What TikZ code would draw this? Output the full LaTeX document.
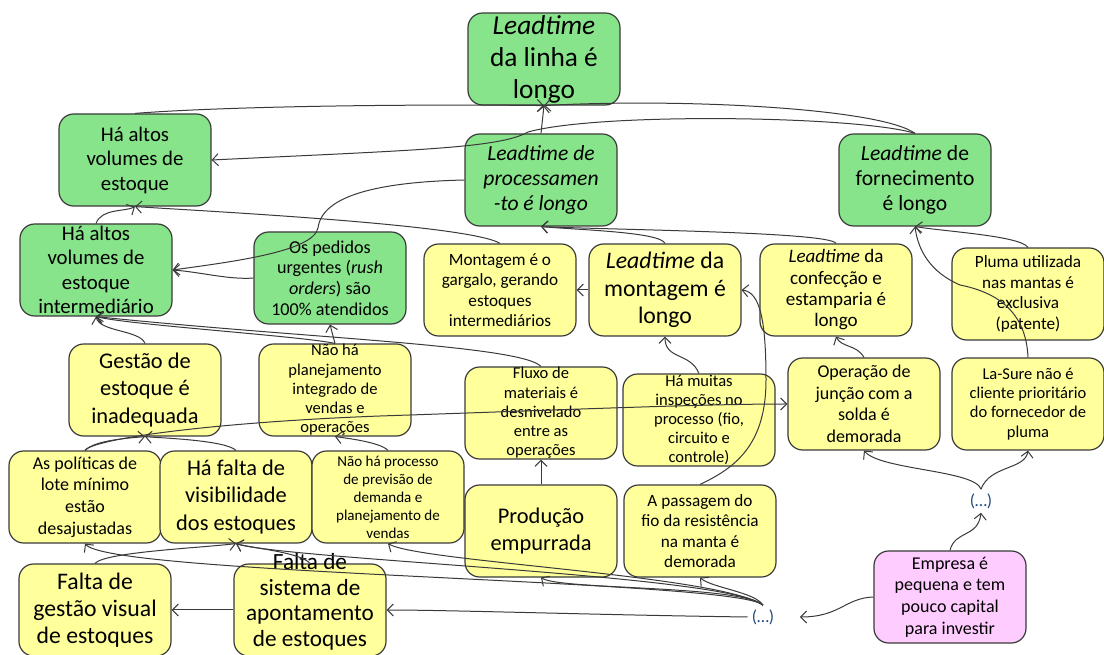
\documentclass[tikz,border=0pt]{standalone}
\usepackage{fontspec}
\setmainfont{Carlito}
\usetikzlibrary{arrows.meta}
\definecolor{gbox}{HTML}{88E48A}
\definecolor{ybox}{HTML}{FFFF9B}
\definecolor{pbox}{HTML}{FFCCFF}
\definecolor{edgec}{HTML}{3A3A3A}
\definecolor{dotc}{HTML}{1F497D}
\tikzset{
 box/.style={draw=edgec, line width=0.9pt, rounded corners=11pt, minimum width=114pt, minimum height=69pt, inner sep=0pt},
 gbx/.style={box, fill=gbox},
 ybx/.style={box, fill=ybox},
 pbx/.style={box, fill=pbox},
 txt/.style={align=center, inner sep=0pt, text=black},
 fH/.style={font=\fontsize{20.5}{24}\selectfont},
 fL/.style={font=\fontsize{16.8}{20.6}\selectfont},
 fLL/.style={font=\fontsize{17.8}{20.4}\selectfont},
 fLS/.style={font=\fontsize{17.4}{19.2}\selectfont},
 fM/.style={font=\fontsize{15.6}{18.4}\selectfont},
 fMM/.style={font=\fontsize{16.2}{18.6}\selectfont},
 fC/.style={font=\fontsize{14.3}{16}\selectfont},
 fU/.style={font=\fontsize{13.6}{15.6}\selectfont},
 fR/.style={font=\fontsize{13.5}{16.2}\selectfont},
 fS/.style={font=\fontsize{12.9}{15.4}\selectfont},
 fT/.style={font=\fontsize{12.4}{14.4}\selectfont},
 fX/.style={font=\fontsize{11.3}{13.5}\selectfont},
 arr/.style={draw=edgec, line width=0.75pt, -{Straight Barb[length=4.5pt,width=9pt]}},
 dotsn/.style={text=dotc, font=\fontsize{13}{16}\selectfont, inner sep=3pt},
}
\newcommand\cbx[5]{\node[#2] (#1) at (#3) {}; \node[txt,#4] (#1-t) at (#1.center) {#5};}
\begin{document}
\begin{tikzpicture}[x=0.75pt,y=-0.75pt]
\clip (0,0) rectangle (1104,655);
\fill[white] (0,0) rectangle (1104,655);
% nodes
\cbx{top}{gbx}{544,59}{fH}{\textit{Leadtime}\\da linha é\\longo}
\cbx{estoque}{gbx}{135,160}{fM}{Há altos\\volumes de\\estoque}
\cbx{proc}{gbx}{541,180}{fMM}{{\itshape Leadtime de}\\{\itshape processamen}\\{\itshape -to é longo}}
\cbx{forn}{gbx}{915,180}{fMM}{\textit{Leadtime} de\\fornecimento\\é longo}
\cbx{inter}{gbx}{96,270}{fM}{Há altos\\volumes de\\estoque\\intermediário}
\cbx{rush}{gbx}{330,278}{fU}{Os pedidos\\urgentes (\textit{rush}\\\textit{orders}) são\\100\% atendidos}
\cbx{mont}{ybx}{500,290}{fS}{Montagem é o\\gargalo, gerando\\estoques\\intermediários}
\cbx{ltmont}{ybx}{665,290}{fLL}{\textit{Leadtime} da\\montagem é\\longo}
\cbx{conf}{ybx}{836,290}{fC}{\textit{Leadtime} da\\confecção e\\estamparia é\\longo}
\cbx{pluma}{ybx}{1028,294}{fS}{Pluma utilizada\\nas mantas é\\exclusiva\\(patente)}
\cbx{gestao}{ybx}{145,390}{fL}{Gestão de\\estoque é\\inadequada}
\cbx{naoplan}{ybx}{335,390}{fT}{Não há\\planejamento\\integrado de\\vendas e\\operações}
\cbx{fluxo}{ybx}{541,413}{fT}{Fluxo de\\materiais é\\desnivelado\\entre as\\operações}
\cbx{insp}{ybx}{699,420}{fT}{Há muitas\\inspeções no\\processo (fio,\\circuito e\\controle)}
\cbx{solda}{ybx}{864,404}{fR}{Operação de\\junção com a\\solda é\\demorada}
\cbx{lasure}{ybx}{1028,404}{fT}{La-Sure não é\\cliente prioritário\\do fornecedor de\\pluma}
\cbx{politicas}{ybx}{85,497}{fR}{As políticas de\\lote mínimo\\estão\\desajustadas}
\cbx{visib}{ybx}{236,497}{fL}{Há falta de\\visibilidade\\dos estoques}
\cbx{previsao}{ybx}{388,497}{fX}{Não há processo\\de previsão de\\demanda e\\planejamento de\\vendas}
\cbx{prod}{ybx}{541,531}{fL}{Produção\\empurrada}
\cbx{passagem}{ybx}{700,531}{fS}{A passagem do\\fio da resistência\\na manta é\\demorada}
\cbx{visual}{ybx}{95,610}{fLL}{Falta de\\gestão visual\\de estoques}
\node[ybx] (sistema) at (310,610) {};
\node[txt,fLS] (sistema-t) at (310,602) {Falta de\\sistema de\\apontamento\\de estoques};
\cbx{empresa}{pbx}{950,597}{fR}{Empresa é\\pequena e tem\\pouco capital\\para investir}
\node[dotsn] (dots1) at (763,617) {(…)};
\node[dotsn] (dots2) at (981,501) {(…)};
% edges
\draw[arr] (estoque.north) .. controls (230,106) and (420,104) .. (top.south);
\draw[arr] (proc.north) -- (top.south);
\draw[arr] (forn.north) .. controls (880,108) and (680,98) .. (top.south);
\draw[arr] (forn.north) .. controls (860,116) and (600,112) .. (528,132) .. controls (500,148) and (420,150) .. (estoque.east);
\draw[arr] (proc.west) .. controls (380,182) and (322,195) .. (318,228) .. controls (313,252) and (230,262) .. (inter.east);
\draw[arr] (rush.west) .. controls (230,280) and (200,272) .. (inter.east);
\draw[arr] (mont.north) .. controls (470,225) and (220,212) .. (estoque.south);
\draw[arr] (inter.north) .. controls (102,208) and (125,212) .. (estoque.south);
\draw[arr] (ltmont.north) .. controls (660,232) and (580,230) .. (proc.south);
\draw[arr] (conf.north) .. controls (830,232) and (620,230) .. (proc.south);
\draw[arr] (ltmont.west) -- (mont.east);
\draw[arr] (passagem.north) .. controls (735,468) and (766,445) .. (766,380) .. controls (766,320) and (760,292) .. (ltmont.east);
\draw[arr] (insp.north) .. controls (690,352) and (665,360) .. (ltmont.south);
\draw[arr] (solda.north) .. controls (856,344) and (842,348) .. (conf.south);
\draw[arr] (pluma.north) .. controls (1020,236) and (950,232) .. (forn.south);
\draw[arr] (lasure.north) .. controls (1026,310) and (995,292) .. (960,285) .. controls (930,272) and (918,250) .. (forn.south);
\draw[arr] (gestao.north) .. controls (140,330) and (100,332) .. (inter.south);
\draw[arr] (naoplan.north) .. controls (300,336) and (130,325) .. (inter.south);
\draw[arr] (naoplan.north) -- (rush.south);
\draw[arr] (fluxo.north) .. controls (520,345) and (300,338) .. (inter.south);
\draw[arr] (politicas.north) .. controls (95,438) and (220,422) .. (380,416) .. controls (560,410) and (700,404) .. (solda.west);
\draw[arr] (politicas.north) .. controls (95,440) and (130,438) .. (gestao.south);
\draw[arr] (visib.north) .. controls (225,440) and (160,438) .. (gestao.south);
\draw[arr] (previsao.north) .. controls (380,442) and (345,438) .. (naoplan.south);
\draw[arr] (prod.north) -- (fluxo.south);
\draw[arr] (visual.north) .. controls (105,552) and (200,548) .. (visib.south);
\draw[arr] (sistema.north) .. controls (300,552) and (250,548) .. (visib.south);
\draw[arr] (sistema.west) -- (visual.east);
\draw[arr] (dots1.north) .. controls (740,580) and (110,575) .. (politicas.south);
\draw[arr] (dots1.north) .. controls (730,575) and (290,560) .. (visib.south);
\draw[arr] (dots1.north) .. controls (720,575) and (420,562) .. (previsao.south);
\draw[arr] (dots1.north) .. controls (740,585) and (560,590) .. (prod.south);
\draw[arr] (dots1.north) .. controls (755,592) and (712,588) .. (passagem.south);
\draw[arr] (dots1.west) .. controls (600,615) and (450,610) .. (sistema.east);
\draw[arr] (dots2.north) .. controls (975,470) and (880,470) .. (solda.south);
\draw[arr] (dots2.north) .. controls (990,465) and (1025,470) .. (lasure.south);
\draw[arr] (empresa.north) .. controls (955,530) and (978,538) .. (dots2.south);
\draw[arr] (empresa.west) .. controls (845,598) and (840,617) .. ([xshift=16pt]dots1.east);
\end{tikzpicture}
\end{document}
